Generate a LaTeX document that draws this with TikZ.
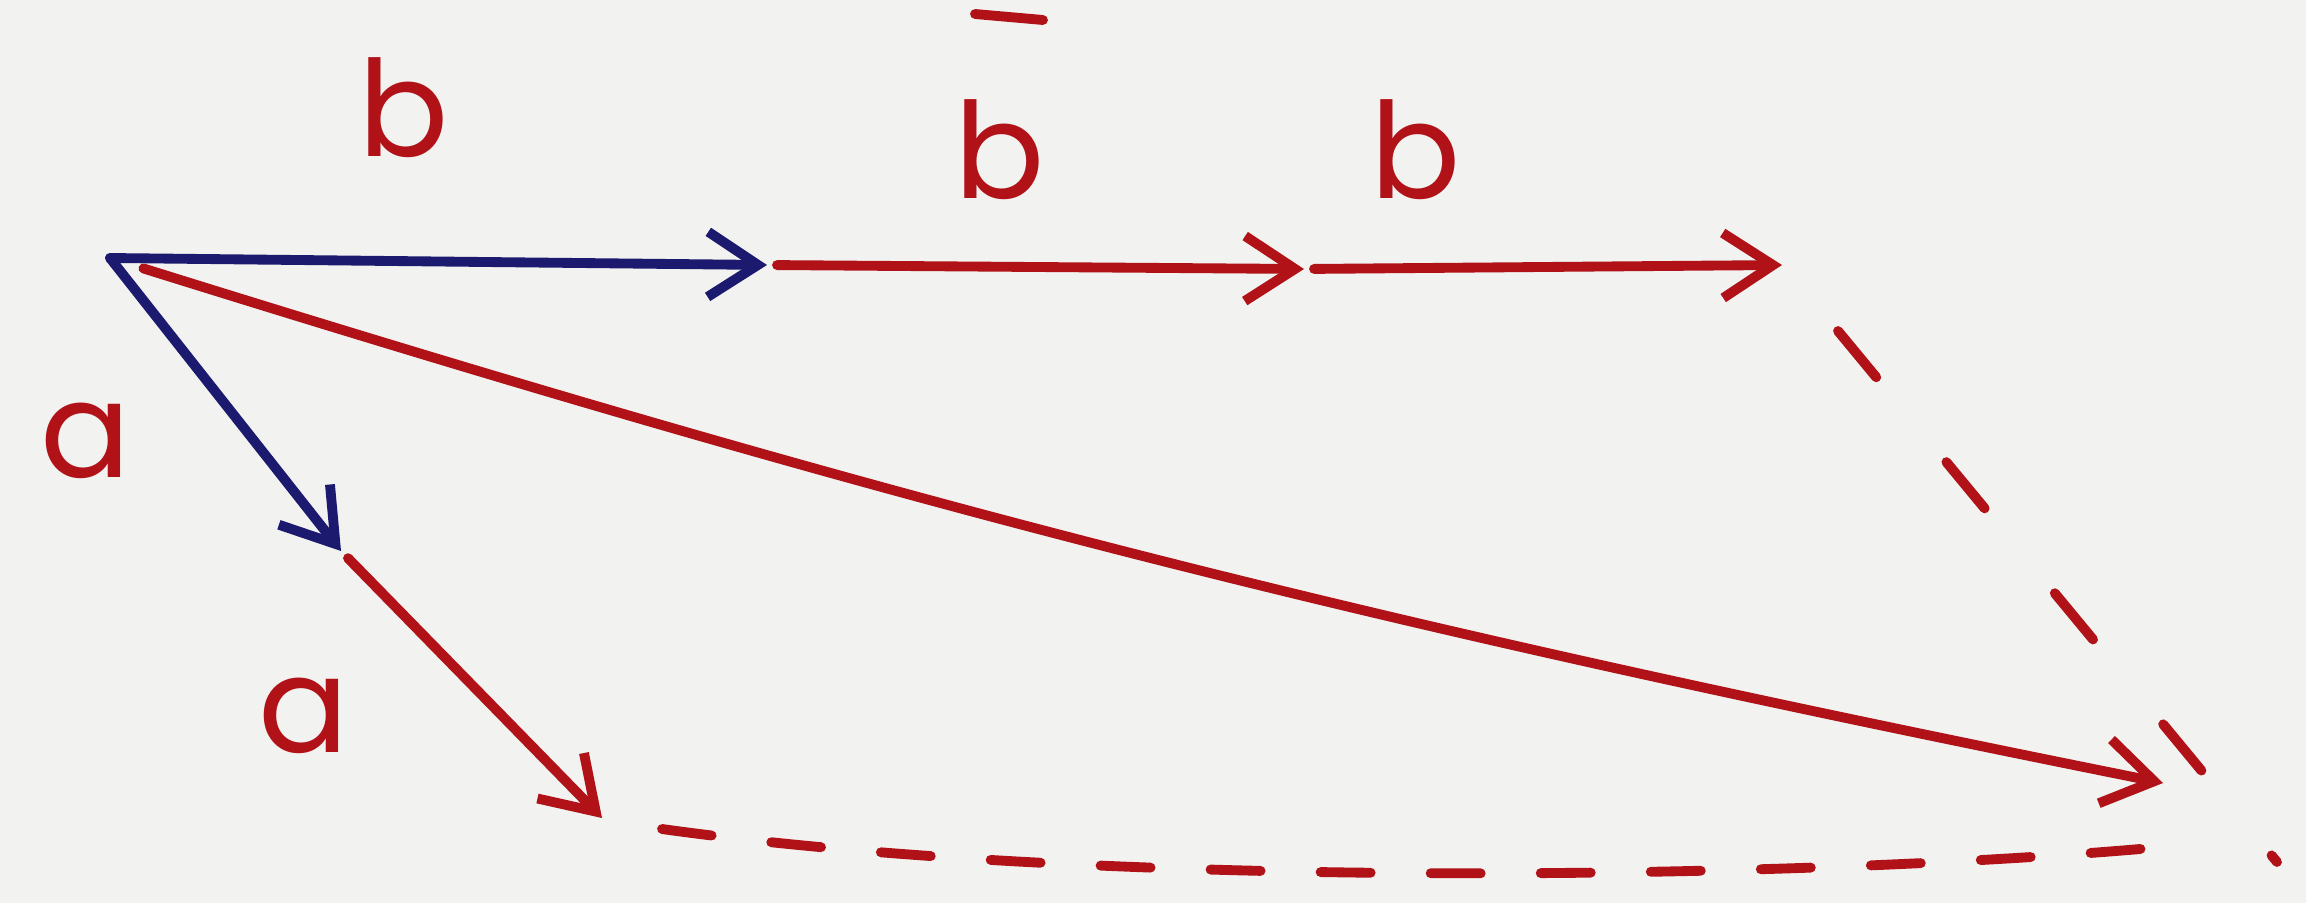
\documentclass[tikz,border=0pt]{standalone}
\usepackage{fontspec}
\setmainfont{Poppins}
\usepackage{xcolor}
\usetikzlibrary{arrows.meta}

\definecolor{penred}{RGB}{176,18,24}
\definecolor{penblue}{RGB}{28,26,110}
\definecolor{paper}{RGB}{242,242,240}

\begin{document}
\begin{tikzpicture}[
  x=0.01cm, y=-0.01cm,
  vec/.style = {-{Straight Barb[length=5mm, width=6.5mm]}, line width=2.8pt, line cap=round},
  bvec/.style = {vec, draw=penblue},
  rvec/.style = {vec, draw=penred},
  guide/.style = {draw=penred, line width=2.8pt, line cap=round},
  lbl/.style = {text=penred, font=\fontsize{38}{40}\selectfont, inner sep=0pt}
]
  \fill[paper] (0,0) rectangle (2306,903);
  \useasboundingbox (0,0) rectangle (2306,903);

  % points of the sketch
  \coordinate (O)  at (110,258);
  \coordinate (A1) at (341,551);
  \coordinate (A2) at (602,818);
  \coordinate (B1) at (767,265);
  \coordinate (B2) at (1304,269);
  \coordinate (B3) at (1782,265);
  \coordinate (S)  at (2163,783);
  \coordinate (D0) at (1838,331);
  \coordinate (D1) at (2277,862);
  \coordinate (E0) at (662,829);
  \coordinate (E1) at (2163,847);
  \coordinate (T0) at (975,14);
  \coordinate (T1) at (1043,20);

  \node[lbl] (lb1) at (404,108) {b};
  \node[lbl] (lb2) at (1000,150) {b};
  \node[lbl] (lb3) at (1416,150) {b};
  \node[lbl] (la1) at (86,441)  {a};
  \node[lbl] (la2) at (304,716) {a};

  \draw[bvec] (O) -- (B1);
  \draw[rvec, shorten <=1mm] (B1) -- (B2);
  \draw[rvec, shorten <=1mm] (B2) -- (B3);
  \draw[bvec] (O) -- (A1);
  \draw[rvec, shorten <=1mm] (A1) -- (A2);
  \draw[rvec, shorten <=3.5mm] (O) to[bend right=3] (S);

  \draw[guide, dash pattern=on 6mm off 11mm] (D0) -- (D1);
  \draw[guide, dash pattern=on 5mm off 6mm]
    (E0) .. controls (1100,890) and (1800,880) .. (E1);
  \draw[guide] (T0) -- (T1);
\end{tikzpicture}
\end{document}
